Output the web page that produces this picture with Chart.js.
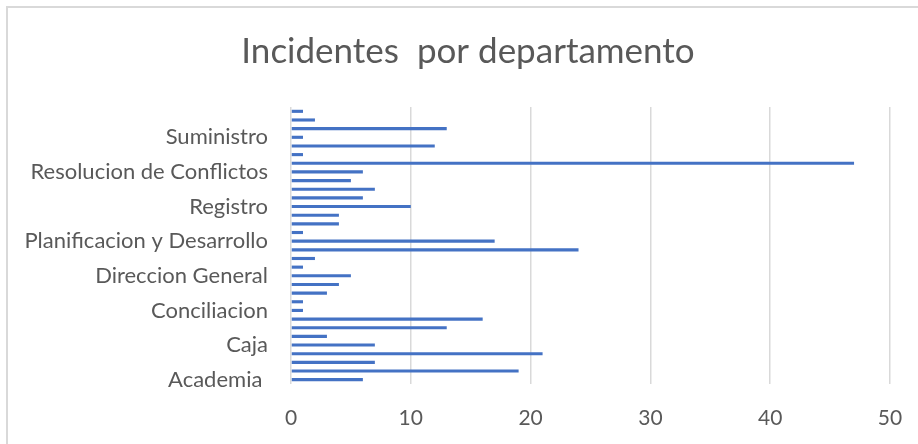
<!DOCTYPE html>
<html>
<head>
<meta charset="utf-8">
<script src="https://cdn.jsdelivr.net/npm/chart.js@4"></script>
<style>
  html, body { margin: 0; padding: 0; background: #ffffff; }
  #wrap { position: relative; width: 918px; height: 444px; overflow: hidden; }
  #frame { position: absolute; left: 6px; top: 6px; width: 940px; height: 460px;
           border-left: 2px solid #d9d9d9; border-top: 2px solid #d9d9d9; box-sizing: border-box; pointer-events: none; }
  canvas { position: absolute; left: 0; top: 0; }
</style>
</head>
<body>
<div id="wrap">
  <canvas id="c" width="918" height="444"></canvas>
  <div id="frame"></div>
</div>
<script>
// Categories listed bottom-to-top (as drawn in the reference); only every 4th label is visible
const categories = [
  "Academia ", "Administracion", "Almacen", "Auditoria",
  "Caja", "Calidad", "Comunicaciones", "Compras",
  "Conciliacion", "Contabilidad", "Cooperacion", "Despacho",
  "Direccion General", "Finanzas", "Informatica", "Juridica",
  "Planificacion y Desarrollo", "Prensa", "Presupuesto", "Recursos Humanos",
  "Registro", "Relaciones Publicas", "Reparaciones", "Reportes",
  "Resolucion de Conflictos", "Seguridad", "Servicios Generales", "Soporte Tecnico",
  "Suministro", "Tecnologia", "Tesoreria", "Transportes"
];
const incidentes = [
  6, 19, 7, 21,
  7, 3, 13, 16,
  1, 1, 3, 4,
  5, 1, 2, 24,
  17, 1, 4, 4,
  10, 6, 7, 5,
  6, 47, 1, 12,
  1, 13, 2, 1
];
const xTicks = [0, 10, 20, 30, 40, 50];
const chartTitle = "Incidentes  por departamento";

const FONT = "Lato, 'Open Sans', sans-serif";
const GREY_TEXT = "#595959";
const GRID = "#d9d9d9";

// Title drawn slightly right of canvas centre, as in the reference
const titlePlugin = {
  id: 'customTitle',
  afterDraw(chart) {
    const ctx = chart.ctx;
    ctx.save();
    ctx.fillStyle = GREY_TEXT;
    ctx.font = "35px " + FONT;
    ctx.textAlign = 'center';
    ctx.textBaseline = 'middle';
    ctx.fillText(chartTitle, 468, 52);
    ctx.restore();
  }
};

new Chart(document.getElementById('c'), {
  type: 'bar',
  data: {
    labels: categories,
    datasets: [{
      label: 'Incidentes',
      data: incidentes,
      backgroundColor: '#4472C4',
      borderWidth: 0,
      categoryPercentage: 1.0,
      barPercentage: 0.36
    }]
  },
  plugins: [titlePlugin],
  options: {
    indexAxis: 'y',
    responsive: false,
    animation: false,
    devicePixelRatio: 1,
    layout: { padding: { left: 0, right: 28, top: 107, bottom: 0 } },
    plugins: {
      legend: { display: false },
      tooltip: { enabled: false },
      title: { display: false }
    },
    scales: {
      x: {
        min: 0,
        max: 50,
        afterBuildTicks: (scale) => { scale.ticks = xTicks.map(v => ({ value: v })); },
        afterFit: (scale) => { scale.height = 60; scale.paddingRight = 0; scale.paddingLeft = 0; },
        grid: { color: GRID, lineWidth: 1.5, drawTicks: false },
        border: { display: false },
        ticks: {
          color: GREY_TEXT,
          font: { family: FONT, size: 21 },
          padding: 22
        }
      },
      y: {
        reverse: true,
        afterFit: (scale) => { scale.width = 291; scale.paddingTop = 0; scale.paddingBottom = 0; },
        grid: { display: false, drawTicks: false },
        border: { display: false },
        ticks: {
          autoSkip: false,
          color: GREY_TEXT,
          font: { family: FONT, size: 22 },
          padding: 23,
          callback: function (value, index) {
            return index % 4 === 0 ? this.getLabelForValue(value) : '';
          }
        }
      }
    }
  }
});
</script>
</body>
</html>
